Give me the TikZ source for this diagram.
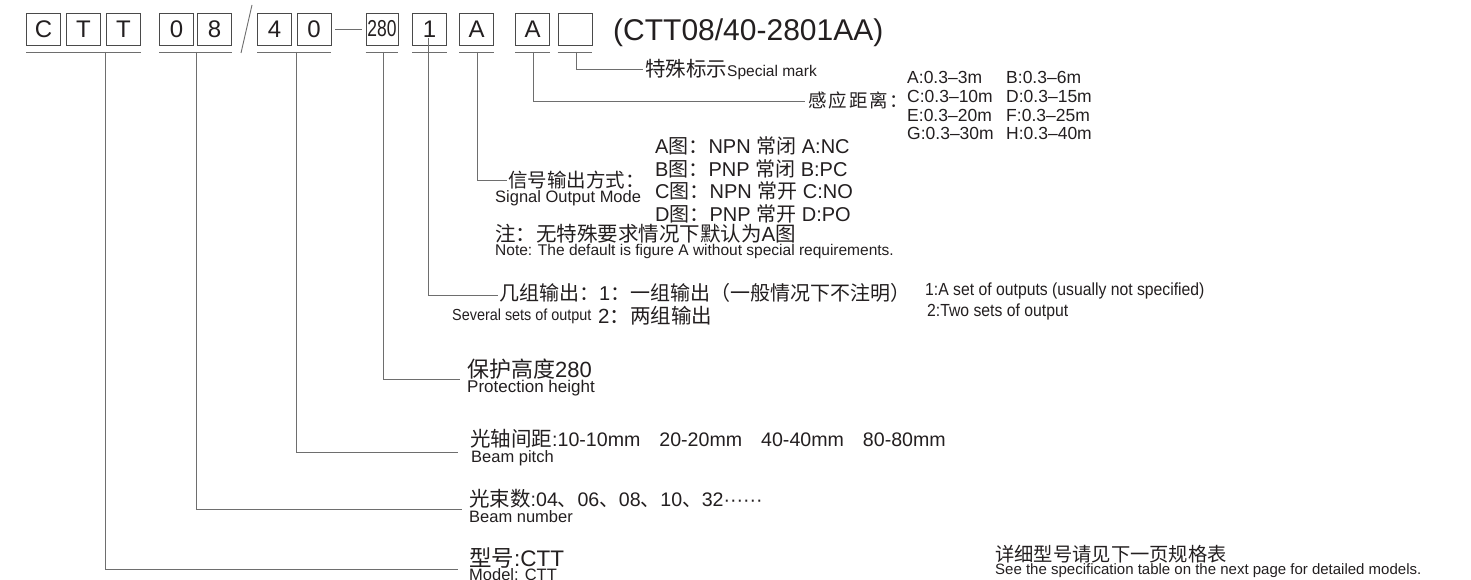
\documentclass[tikz,border=0pt]{standalone}
\usepackage{fontspec}
\setmainfont{Liberation Sans}
\newfontfamily\myzhfont{Noto Sans CJK SC}
\newfontfamily\mycondfont[FakeStretch=0.9]{Liberation Sans}
\newfontfamily\mynarrowfont[FakeStretch=0.76]{Liberation Sans}
\newcommand\myzh[1]{{\myzhfont #1}}
\newcommand\myfs[1]{\fontsize{#1}{#1}\selectfont}
\definecolor{ink}{HTML}{231F20}
\definecolor{wire}{HTML}{6E6E6E}
\definecolor{frame}{HTML}{4A4A4A}
\begin{document}
\begin{tikzpicture}[x=1pt,y=-1pt,
  bx/.style={draw=frame, line width=0.9pt, minimum width=34pt, minimum height=32pt, inner sep=0pt, font=\myfs{24}, text=ink},
  lbl/.style={anchor=base west, inner sep=0pt, text=ink},
  wireln/.style={draw=wire, line width=0.9pt},
]
\useasboundingbox (0,0) rectangle (1471,580);
\fill[white] (0,0) rectangle (1471,580);

% code boxes
\node[bx] (bC)  at (43.5,29) {C};
\node[bx] (bT1) at (83.5,29) {T};
\node[bx] (bT2) at (123.5,29) {T};
\node[bx] (b0)  at (176.5,29) {0};
\node[bx] (b8)  at (214.5,29) {8};
\node[bx] (b4)  at (274.5,29) {4};
\node[bx] (b0b) at (314,29) {0};
\node[bx, minimum width=32pt, font=\mynarrowfont\myfs{23}] (b280) at (382,29) {280};
\node[bx] (b1)  at (429.5,29) {1};
\node[bx] (bA1) at (476.5,29) {A};
\node[bx] (bA2) at (532.5,29) {A};
\node[bx] (bE)  at (575,29) {};

\coordinate (s1) at (252,5);
\coordinate (s2) at (241,53);
\draw[wireln] (s1) -- (s2);
\draw[wireln] (b0b.east) ++(4,0) -- ([xshift=-4pt]b280.west);

% underlines
\draw[wireln] ([yshift=-7pt]bC.south west) -- ([yshift=-7pt]bT2.south east);
\draw[wireln] ([yshift=-7pt]b0.south west) -- ([yshift=-7pt]b8.south east);
\draw[wireln] ([yshift=-7pt]b4.south west) -- ([yshift=-7pt]b0b.south east);
\draw[wireln] ([yshift=-7pt]b280.south west) -- ([yshift=-7pt]b280.south east);
\draw[wireln] ([yshift=-7pt]b1.south west) -- ([yshift=-7pt]b1.south east);
\draw[wireln] ([yshift=-7pt]bA1.south west) -- ([yshift=-7pt]bA1.south east);
\draw[wireln] ([yshift=-7pt]bA2.south west) -- ([yshift=-7pt]bA2.south east);
\draw[wireln] ([yshift=-7pt]bE.south west) -- ([yshift=-7pt]bE.south east);

\node[lbl, font=\myfs{30}] (title) at (613,41) {(CTT08/40-2801AA)};

% special mark
\node[lbl] (special) at (645,77) {\myzh{\myfs{20.5}特殊标示}{\myfs{15.5}Special mark}};
% sensing distance
\node[lbl, font=\myfs{18.5}] (sense) at (808,108) {\myzh{感\hspace{2pt}应\hspace{2pt}距\hspace{2pt}离\hspace{1pt}：}};
\node[lbl, font=\myfs{17.5}] (tA) at (907,84) {A:0.3–3m};
\node[lbl, font=\myfs{17.5}] (tB) at (1006,84) {B:0.3–6m};
\node[lbl, font=\myfs{17.5}] (tC) at (907,103) {C:0.3–10m};
\node[lbl, font=\myfs{17.5}] (tD) at (1006,103) {D:0.3–15m};
\node[lbl, font=\myfs{17.5}] (tE) at (907,122) {E:0.3–20m};
\node[lbl, font=\myfs{17.5}] (tF) at (1006,122) {F:0.3–25m};
\node[lbl, font=\myfs{17.5}] (tG) at (907,140) {G:0.3–30m};
\node[lbl, font=\myfs{17.5}] (tH) at (1006,140) {H:0.3–40m};

% signal output mode
\node[lbl, font=\myfs{19.5}] (sig) at (508,187.5) {\myzh{信号输出方式：}};
\node[lbl, font=\myfs{16.5}] (sigen) at (495,202) {Signal Output Mode};
\node[lbl, font=\myfs{20}] (mA) at (655,153.5) {A\myzh{图：}NPN \myzh{常闭} A:NC};
\node[lbl, font=\myfs{20}] (mB) at (655,176) {B\myzh{图：}PNP \myzh{常闭} B:PC};
\node[lbl, font=\myfs{20}] (mC) at (655,198.5) {C\myzh{图：}NPN \myzh{常开} C:NO};
\node[lbl, font=\myfs{20}] (mD) at (655,221) {D\myzh{图：}PNP \myzh{常开} D:PO};
\node[lbl, font=\myfs{20.5}] (note) at (495,241) {\myzh{注：无特殊要求情况下默认为}A\myzh{图}};
\node[lbl, font=\myfs{15.5}] (noteen) at (495,255) {Note: The default is figure A without special requirements.};

% output groups
\node[lbl, font=\myfs{20}] (grp) at (499,300.5) {\myzh{几组输出：}1\myzh{：一组输出（一般情况下不注明）}};
\node[lbl, font=\mycondfont\myfs{16}] (grpen) at (452,320.5) {Several sets of output};
\node[lbl, font=\myfs{20.5}] (grp2) at (598,323.5) {2\myzh{：两组输出}};
\node[lbl, font=\mycondfont\myfs{17.5}] (grp1en) at (925,295.5) {1:A set of outputs (usually not specified)};
\node[lbl, font=\mycondfont\myfs{17.5}] (grp2en) at (927,316.5) {2:Two sets of output};

% protection height
\node[lbl, font=\myfs{22}] (prot) at (467,377) {\myzh{保护高度}280};
\node[lbl, font=\myfs{17}] (proten) at (467,392.5) {Protection height};
% beam pitch
\node[lbl, font=\myfs{19.6}] (pitch) at (470,446.5) {\myzh{\myfs{20.5}光轴间距}:10-10mm\hspace{19pt}20-20mm\hspace{19pt}40-40mm\hspace{19pt}80-80mm};
\node[lbl, font=\myfs{16.5}] (pitchen) at (471,462) {Beam pitch};
% beam number
\node[lbl, font=\myfs{19.6}] (num) at (469,506.5) {\myzh{\myfs{20.5}光束数}:04\myzh{、}06\myzh{、}08\myzh{、}10\myzh{、}32······};
\node[lbl, font=\myfs{16.5}] (numen) at (469,522) {Beam number};
% model
\node[lbl, font=\myfs{22.5}] (model) at (469,566) {\myzh{型号}:CTT};
\node[lbl, font=\myfs{16.5}] (modelen) at (469,580.5) {Model: CTT};

% footer
\node[lbl, font=\myfs{19.3}] (foot) at (995,561.5) {\myzh{详细型号请见下一页规格表}};
\node[lbl, font=\myfs{15}] (footen) at (995,574.5) {See the specification table on the next page for detailed models.};

% connectors
\coordinate (uE)   at (576,52);  \coordinate (eE)   at (643,69);
\coordinate (uA2)  at (533,52);  \coordinate (eA2)  at (805,101);
\coordinate (uA1)  at (477,52);  \coordinate (eA1)  at (507,180);
\coordinate (u1)   at (428,38);  \coordinate (e1)   at (498,295);
\coordinate (u280) at (383,52);  \coordinate (e280) at (460,379);
\coordinate (u40)  at (296,52);  \coordinate (e40)  at (458,452);
\coordinate (u08)  at (196,52);  \coordinate (e08)  at (462,509);
\coordinate (uCTT) at (105,52);  \coordinate (eCTT) at (458,569);
\draw[wireln] (uE) |- (eE);
\draw[wireln] (uA2) |- (eA2);
\draw[wireln] (uA1) |- (eA1);
\draw[wireln] (u1) |- (e1);
\draw[wireln] (u280) |- (e280);
\draw[wireln] (u40) |- (e40);
\draw[wireln] (u08) |- (e08);
\draw[wireln] (uCTT) |- (eCTT);
\end{tikzpicture}
\end{document}
